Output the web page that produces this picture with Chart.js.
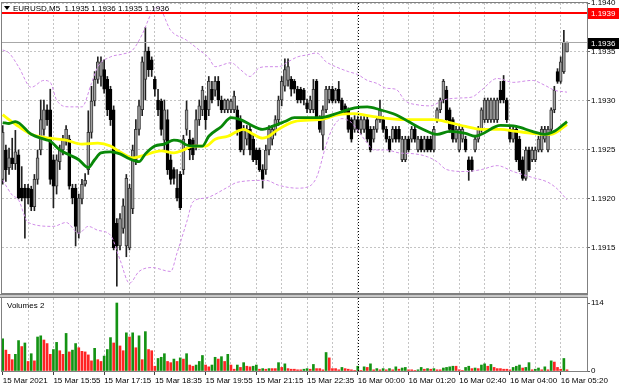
<!DOCTYPE html>
<html lang="en">
<head>
<meta charset="UTF-8">
<title>EURUSD,M5</title>
<style>
    body { margin: 0; background: #fff; }
    #wrap { position: relative; width: 620px; height: 388px; overflow: hidden; background: #fff; }
    canvas { position: absolute; left: 0; }
    #priceCanvas { top: 0; }
    #volCanvas { top: 294px; }
</style>
<script src="https://cdn.jsdelivr.net/npm/chart.js"></script>
</head>
<body>
<div id="wrap">
    <canvas id="priceCanvas" width="620" height="294"></canvas>
    <canvas id="volCanvas" width="620" height="94"></canvas>
</div>
<script>
// time axis labels, one every 16 bars (80 minutes)
const timeLabels = ['15 Mar 2021', '15 Mar 15:55', '15 Mar 17:15', '15 Mar 18:35', '15 Mar 19:55', '15 Mar 21:15',
    '15 Mar 22:35', '16 Mar 00:00', '16 Mar 01:20', '16 Mar 02:40', '16 Mar 04:00', '16 Mar 05:20'];

// M5 candles
const opens = [
    1.19220,1.19250,1.19232,1.19242,1.19236,1.19245,1.19211,1.19211,1.19211,1.19210,
    1.19192,1.19220,1.19250,1.19271,1.19291,1.19291,1.19240,1.19213,1.19238,1.19250,
    1.19261,1.19261,1.19211,1.19211,1.19165,1.19200,1.19215,1.19230,1.19268,1.19300,
    1.19322,1.19325,1.19332,1.19322,1.19312,1.19291,1.19175,1.19152,1.19170,1.19152,
    1.19150,1.19190,1.19240,1.19271,1.19291,1.19322,1.19351,1.19342,1.19322,1.19301,
    1.19300,1.19260,1.19281,1.19240,1.19230,1.19211,1.19225,1.19230,1.19271,1.19261,
    1.19260,1.19255,1.19281,1.19291,1.19301,1.19291,1.19312,1.19311,1.19320,1.19301,
    1.19291,1.19291,1.19291,1.19291,1.19291,1.19281,1.19250,1.19261,1.19271,1.19261,
    1.19250,1.19250,1.19230,1.19230,1.19250,1.19261,1.19270,1.19281,1.19301,1.19315,
    1.19321,1.19322,1.19320,1.19312,1.19312,1.19311,1.19298,1.19291,1.19291,1.19320,
    1.19281,1.19265,1.19291,1.19301,1.19312,1.19301,1.19312,1.19301,1.19295,1.19291,
    1.19281,1.19271,1.19281,1.19271,1.19271,1.19281,1.19271,1.19261,1.19271,1.19281,
    1.19281,1.19271,1.19261,1.19261,1.19271,1.19271,1.19240,1.19240,1.19261,1.19261,
    1.19271,1.19250,1.19261,1.19250,1.19261,1.19261,1.19250,1.19281,1.19291,1.19301,
    1.19311,1.19291,1.19281,1.19261,1.19250,1.19261,1.19261,1.19240,1.19240,1.19250,
    1.19261,1.19271,1.19281,1.19281,1.19281,1.19281,1.19281,1.19311,1.19320,1.19301,
    1.19271,1.19261,1.19271,1.19261,1.19240,1.19221,1.19250,1.19240,1.19240,1.19250,
    1.19250,1.19261,1.19250,1.19271,1.19291,1.19330,1.19320,1.19330,1.19350
];
const highs = [
    1.19275,1.19255,1.19252,1.19262,1.19270,1.19250,1.19233,1.19215,1.19215,1.19213,
    1.19225,1.19250,1.19301,1.19301,1.19296,1.19312,1.19245,1.19245,1.19255,1.19265,
    1.19275,1.19265,1.19215,1.19215,1.19205,1.19220,1.19226,1.19290,1.19315,1.19330,
    1.19345,1.19345,1.19342,1.19325,1.19315,1.19295,1.19180,1.19185,1.19200,1.19225,
    1.19215,1.19255,1.19281,1.19301,1.19345,1.19375,1.19355,1.19345,1.19325,1.19312,
    1.19302,1.19301,1.19291,1.19245,1.19232,1.19230,1.19228,1.19265,1.19300,1.19270,
    1.19262,1.19291,1.19301,1.19315,1.19305,1.19325,1.19320,1.19325,1.19325,1.19305,
    1.19302,1.19302,1.19302,1.19310,1.19295,1.19285,1.19275,1.19275,1.19275,1.19265,
    1.19252,1.19252,1.19235,1.19255,1.19275,1.19275,1.19285,1.19305,1.19325,1.19343,
    1.19343,1.19325,1.19322,1.19315,1.19314,1.19313,1.19302,1.19305,1.19322,1.19322,
    1.19285,1.19295,1.19315,1.19315,1.19315,1.19313,1.19320,1.19303,1.19297,1.19293,
    1.19283,1.19285,1.19284,1.19284,1.19284,1.19284,1.19274,1.19274,1.19284,1.19301,
    1.19284,1.19274,1.19264,1.19274,1.19274,1.19274,1.19264,1.19264,1.19264,1.19274,
    1.19274,1.19264,1.19264,1.19264,1.19264,1.19264,1.19274,1.19293,1.19303,1.19322,
    1.19315,1.19293,1.19283,1.19274,1.19274,1.19274,1.19264,1.19243,1.19243,1.19264,
    1.19274,1.19293,1.19303,1.19303,1.19303,1.19303,1.19303,1.19320,1.19326,1.19303,
    1.19274,1.19274,1.19274,1.19264,1.19243,1.19253,1.19253,1.19253,1.19253,1.19264,
    1.19274,1.19274,1.19274,1.19293,1.19315,1.19333,1.19345,1.19372,1.19360
];
const lows = [
    1.19215,1.19218,1.19225,1.19230,1.19230,1.19200,1.19198,1.19160,1.19195,1.19188,
    1.19188,1.19215,1.19245,1.19265,1.19275,1.19215,1.19191,1.19205,1.19230,1.19245,
    1.19255,1.19210,1.19195,1.19152,1.19160,1.19195,1.19213,1.19225,1.19262,1.19295,
    1.19318,1.19315,1.19308,1.19285,1.19275,1.19148,1.19111,1.19148,1.19165,1.19141,
    1.19148,1.19185,1.19235,1.19265,1.19285,1.19301,1.19325,1.19325,1.19305,1.19285,
    1.19265,1.19250,1.19225,1.19215,1.19215,1.19198,1.19189,1.19225,1.19265,1.19240,
    1.19240,1.19250,1.19275,1.19285,1.19271,1.19285,1.19298,1.19305,1.19295,1.19288,
    1.19288,1.19288,1.19288,1.19288,1.19265,1.19248,1.19245,1.19255,1.19245,1.19238,
    1.19235,1.19228,1.19211,1.19225,1.19245,1.19255,1.19265,1.19275,1.19295,1.19310,
    1.19315,1.19305,1.19308,1.19298,1.19298,1.19296,1.19288,1.19288,1.19288,1.19280,
    1.19268,1.19250,1.19288,1.19298,1.19298,1.19298,1.19298,1.19288,1.19286,1.19268,
    1.19258,1.19268,1.19268,1.19266,1.19268,1.19258,1.19248,1.19258,1.19268,1.19278,
    1.19268,1.19258,1.19248,1.19258,1.19258,1.19258,1.19238,1.19238,1.19248,1.19258,
    1.19258,1.19248,1.19248,1.19248,1.19248,1.19248,1.19248,1.19278,1.19288,1.19298,
    1.19278,1.19268,1.19258,1.19258,1.19248,1.19258,1.19248,1.19219,1.19228,1.19248,
    1.19258,1.19268,1.19278,1.19278,1.19278,1.19278,1.19278,1.19298,1.19298,1.19278,
    1.19258,1.19258,1.19238,1.19228,1.19219,1.19219,1.19228,1.19238,1.19238,1.19248,
    1.19248,1.19258,1.19248,1.19268,1.19288,1.19318,1.19318,1.19328,1.19350
];
const closes = [
    1.19268,1.19230,1.19242,1.19236,1.19248,1.19201,1.19201,1.19201,1.19201,1.19192,
    1.19220,1.19242,1.19281,1.19291,1.19281,1.19220,1.19213,1.19240,1.19250,1.19261,
    1.19271,1.19213,1.19201,1.19172,1.19201,1.19215,1.19219,1.19268,1.19300,1.19322,
    1.19340,1.19340,1.19312,1.19291,1.19281,1.19150,1.19152,1.19180,1.19193,1.19221,
    1.19211,1.19250,1.19271,1.19295,1.19340,1.19351,1.19332,1.19332,1.19312,1.19291,
    1.19271,1.19291,1.19230,1.19220,1.19221,1.19201,1.19191,1.19261,1.19291,1.19250,
    1.19245,1.19281,1.19295,1.19311,1.19281,1.19320,1.19301,1.19320,1.19301,1.19291,
    1.19301,1.19301,1.19300,1.19305,1.19271,1.19250,1.19271,1.19271,1.19250,1.19240,
    1.19240,1.19230,1.19220,1.19250,1.19271,1.19271,1.19281,1.19301,1.19320,1.19332,
    1.19335,1.19312,1.19312,1.19301,1.19301,1.19301,1.19292,1.19301,1.19312,1.19281,
    1.19271,1.19291,1.19312,1.19312,1.19300,1.19311,1.19300,1.19291,1.19288,1.19271,
    1.19261,1.19281,1.19271,1.19281,1.19281,1.19261,1.19250,1.19271,1.19281,1.19291,
    1.19271,1.19261,1.19250,1.19271,1.19261,1.19261,1.19261,1.19261,1.19250,1.19271,
    1.19261,1.19261,1.19250,1.19261,1.19250,1.19250,1.19271,1.19291,1.19301,1.19320,
    1.19281,1.19271,1.19261,1.19271,1.19271,1.19271,1.19250,1.19230,1.19230,1.19261,
    1.19271,1.19291,1.19301,1.19301,1.19301,1.19301,1.19301,1.19301,1.19301,1.19281,
    1.19261,1.19271,1.19240,1.19230,1.19221,1.19250,1.19230,1.19250,1.19250,1.19261,
    1.19271,1.19271,1.19271,1.19291,1.19311,1.19320,1.19340,1.19360,1.19360
];

// tick volumes ("Volumes 2" window)
const volumes = [
    54,35,28,19,28,51,41,47,16,29, 17,57,59,52,46,28,36,48,34,28,
    63,32,35,46,39,33,32,27,17,38, 19,16,25,36,56,47,114,42,34,64,
    57,64,39,59,19,66,36,34,8,21, 23,29,16,14,20,16,22,20,29,10,
    8,10,16,26,10,7,10,23,20,24, 16,28,10,3,10,6,14,8,7,8,
    10,3,4,3,4,4,4,14,6,12, 4,3,3,2,2,3,4,3,11,4,
    4,2,31,22,4,4,2,6,4,3, 2,1,8,1,7,6,12,2,4,2,
    4,2,4,2,7,3,5,6,2,2, 1,2,6,3,4,3,4,2,2,5,
    6,7,8,8,2,1,6,8,4,5, 4,10,12,8,11,6,4,4,3,3,
    2,6,8,10,5,6,14,2,3,5, 2,7,2,17,15,6,3,21,2
];

// indicator lines, sampled at the bar indexes given
const yellowBars = [0,2,5,9,15,20,25,30,34,37,41,44,50,54,57,60,64,67,71,74,76,79,82,84,86,92,100,106,111,117,127,136,141,146,151,157,162,167,170,173,178];
const yellowVals = [1.19286,1.19281,1.19274,1.19266,1.19262,1.19260,1.19256,1.19257,1.19254,1.19248,1.19242,1.19244,1.19249,1.19247,1.19250,1.19254,1.19254,1.19261,1.19264,1.19269,1.19271,1.19266,1.19262,1.19264,1.19269,1.19279,1.19281,1.19286,1.19287,1.19284,1.19281,1.19281,1.19278,1.19274,1.19271,1.19271,1.19269,1.19267,1.19266,1.19266,1.19276];
const greenBars = [0,2,4,9,13,15,18,21,24,27,29,31,34,37,40,43,45,48,51,54,56,58,60,63,65,69,72,75,78,82,85,89,92,95,100,106,111,115,119,124,128,132,137,141,146,149,151,157,162,167,171,174,178];
const greenVals = [1.19278,1.19277,1.19279,1.19266,1.19261,1.19259,1.19250,1.19245,1.19240,1.19232,1.19240,1.19247,1.19248,1.19246,1.19241,1.19238,1.19246,1.19254,1.19256,1.19260,1.19259,1.19255,1.19254,1.19254,1.19264,1.19274,1.19283,1.19281,1.19276,1.19271,1.19274,1.19279,1.19283,1.19283,1.19283,1.19288,1.19293,1.19294,1.19291,1.19286,1.19279,1.19272,1.19266,1.19269,1.19267,1.19264,1.19266,1.19275,1.19274,1.19269,1.19266,1.19269,1.19279];
const upperBars = [0,2,5,9,13,15,17,21,25,28,30,34,38,41,44,47,49,53,58,62,65,67,72,75,78,81,84,87,90,93,96,99,102,105,109,112,115,118,121,124,127,131,135,139,144,148,151,156,161,167,171,174,178];
const upperVals = [1.19352,1.19349,1.19335,1.19314,1.19321,1.19319,1.19301,1.19294,1.19294,1.19318,1.19335,1.19345,1.19348,1.19352,1.19368,1.19390,1.19396,1.19372,1.19362,1.19352,1.19344,1.19335,1.19339,1.19332,1.19325,1.19334,1.19335,1.19335,1.19340,1.19345,1.19347,1.19349,1.19340,1.19335,1.19330,1.19327,1.19321,1.19318,1.19313,1.19312,1.19300,1.19296,1.19295,1.19301,1.19303,1.19304,1.19311,1.19323,1.19319,1.19321,1.19316,1.19311,1.19309];
const lowerBars = [0,3,5,8,16,20,24,27,30,34,37,40,43,47,53,55,58,60,64,71,74,83,87,93,96,99,102,104,107,110,112,115,117,121,125,130,134,137,140,146,151,156,161,167,172,175,178];
const lowerVals = [1.19219,1.19204,1.19199,1.19176,1.19172,1.19176,1.19165,1.19172,1.19168,1.19163,1.19138,1.19114,1.19126,1.19130,1.19126,1.19145,1.19176,1.19197,1.19201,1.19212,1.19217,1.19219,1.19214,1.19211,1.19212,1.19222,1.19255,1.19272,1.19282,1.19278,1.19270,1.19257,1.19250,1.19250,1.19247,1.19246,1.19243,1.19238,1.19230,1.19228,1.19230,1.19234,1.19228,1.19222,1.19217,1.19210,1.19199];

const priceTicks = [1.1915, 1.1920, 1.1925, 1.1930, 1.1935, 1.1940];
const volumeTicks = [0, 114];
const alertLevel = 1.1939;   // red horizontal line
const bidPrice = 1.1936;     // current price line
const dayStartBar = 112;     // first bar of 16 Mar

const FONT = '"Liberation Sans", Arial, sans-serif';
Chart.defaults.font.family = FONT;
Chart.defaults.font.size = 8;
Chart.defaults.color = '#000';

const xMin = -0.22, xMax = 184.3;
const gridBars = Array.from({ length: 23 }, (_, k) => k * 8);
const idx = opens.map((_, i) => i);
const bull = idx.map(i => closes[i] >= opens[i]);

function pts(xs, ys) { return xs.map((x, k) => ({ x: x, y: ys[k] })); }

function lineSet(xs, ys, color, width, dash, order) {
    return {
        type: 'line', data: pts(xs, ys), borderColor: color, borderWidth: width,
        borderDash: dash, pointRadius: 0, cubicInterpolationMode: 'monotone', fill: false, order: order
    };
}

function axisBox(ctx, x, y, bg, text) {
    ctx.fillStyle = bg;
    ctx.fillRect(x, Math.round(y) - 5, 31, 11);
    ctx.fillStyle = '#fff';
    ctx.font = '8px ' + FONT;
    ctx.textAlign = 'left';
    ctx.textBaseline = 'middle';
    ctx.fillText(text, x + 3, Math.round(y) + 0.5);
}

const priceOverlay = {
    id: 'priceOverlay',
    afterDraw(chart) {
        const { ctx, chartArea: a, scales: { x, y } } = chart;
        ctx.save();
        // day separator
        const sx = Math.round(x.getPixelForValue(dayStartBar)) + 0.5;
        ctx.strokeStyle = '#000';
        ctx.lineWidth = 1;
        ctx.setLineDash([1, 2]);
        ctx.beginPath(); ctx.moveTo(sx, a.top); ctx.lineTo(sx, a.bottom); ctx.stroke();
        ctx.setLineDash([]);
        // bid line
        const by = Math.round(y.getPixelForValue(bidPrice)) + 0.5;
        ctx.strokeStyle = '#a8a8a8';
        ctx.beginPath(); ctx.moveTo(a.left, by); ctx.lineTo(a.right, by); ctx.stroke();
        // alert line
        const ry = Math.round(y.getPixelForValue(alertLevel));
        ctx.strokeStyle = '#ff0000';
        ctx.lineWidth = 2;
        ctx.beginPath(); ctx.moveTo(a.left, ry); ctx.lineTo(a.right, ry); ctx.stroke();
        // frame
        ctx.lineWidth = 1;
        ctx.strokeStyle = '#808080';
        ctx.strokeRect(a.left - 0.5, a.top - 0.5, a.right - a.left + 1, a.bottom - a.top + 1);
        // price boxes on the axis
        axisBox(ctx, a.right + 1, ry, '#ff0000', alertLevel.toFixed(4));
        axisBox(ctx, a.right + 1, by, '#000000', bidPrice.toFixed(4));
        // symbol line
        const n = closes.length - 1;
        ctx.fillStyle = '#000';
        ctx.beginPath(); ctx.moveTo(4, 6); ctx.lineTo(10, 6); ctx.lineTo(7, 10); ctx.closePath(); ctx.fill();
        ctx.font = '8px ' + FONT;
        ctx.textAlign = 'left';
        ctx.textBaseline = 'middle';
        ctx.fillText('EURUSD,M5  ' + [opens[n], highs[n], lows[n], closes[n]].map(v => v.toFixed(4)).join(' '), 13, 8.5);
        ctx.restore();
    }
};

new Chart(document.getElementById('priceCanvas'), {
    type: 'bar',
    data: {
        datasets: [
            lineSet(greenBars, greenVals, '#088808', 2.8, [], 0),
            lineSet(yellowBars, yellowVals, '#ffff00', 2.8, [], 1),
            lineSet(upperBars, upperVals, '#d08ce8', 1, [3, 2], 2),
            lineSet(lowerBars, lowerVals, '#d08ce8', 1, [3, 2], 2),
            {
                data: idx.map(i => ({ x: i, y: [opens[i], closes[i]] })),
                backgroundColor: bull.map(b => b ? '#a0a0a0' : '#000000'),
                borderColor: bull.map(b => b ? '#383838' : '#000000'),
                borderWidth: 1, borderSkipped: false, barThickness: 3, grouped: false, order: 5
            },
            {
                data: idx.map(i => ({ x: i, y: [lows[i], highs[i]] })),
                backgroundColor: '#202020', barThickness: 1, grouped: false, order: 6
            }
        ]
    },
    options: {
        responsive: false, animation: false, devicePixelRatio: 1,
        layout: { padding: { left: 2, top: 3, right: 0, bottom: 1 } },
        plugins: { legend: { display: false }, tooltip: { enabled: false } },
        scales: {
            x: {
                type: 'linear', min: xMin, max: xMax, offset: false,
                afterBuildTicks: s => { s.ticks = gridBars.slice(1).map(v => ({ value: v })); },
                ticks: { display: false },
                grid: { color: '#c4c4c4', drawTicks: false, offset: false },
                border: { display: false, dash: [2, 2] },
                afterFit: s => { s.height = 0; s.paddingLeft = 0; s.paddingRight = 0; }
            },
            y: {
                position: 'right', min: 1.19104, max: 1.19400,
                afterBuildTicks: s => { s.ticks = priceTicks.map(v => ({ value: v })); },
                ticks: { callback: v => v.toFixed(4), padding: 1, color: '#000' },
                grid: { color: '#c4c4c4', tickLength: 3, tickColor: '#606060' },
                border: { display: false, dash: [2, 2] },
                afterFit: s => { s.width = 33; s.paddingTop = 0; s.paddingBottom = 0; }
            }
        }
    },
    plugins: [priceOverlay]
});

const volOverlay = {
    id: 'volOverlay',
    afterDraw(chart) {
        const { ctx, chartArea: a, scales: { x } } = chart;
        ctx.save();
        // panel separator
        ctx.fillStyle = '#c8c8c8';
        ctx.fillRect(0, 0, a.right + 1, 4);
        ctx.fillStyle = '#808080';
        ctx.fillRect(0, 0, a.right + 1, 1);
        ctx.fillRect(0, 3, a.right + 1, 1);
        // day separator
        const sx = Math.round(x.getPixelForValue(dayStartBar)) + 0.5;
        ctx.strokeStyle = '#000';
        ctx.lineWidth = 1;
        ctx.setLineDash([1, 2]);
        ctx.beginPath(); ctx.moveTo(sx, a.top); ctx.lineTo(sx, a.bottom); ctx.stroke();
        ctx.setLineDash([]);
        // frame
        ctx.strokeStyle = '#808080';
        ctx.strokeRect(a.left - 0.5, a.top - 0.5, a.right - a.left + 1, a.bottom - a.top + 1);
        ctx.fillStyle = '#000';
        ctx.font = '8px ' + FONT;
        ctx.textAlign = 'left';
        ctx.textBaseline = 'middle';
        ctx.fillText('Volumes 2', 7, a.top + 8);
        ctx.restore();
    }
};

new Chart(document.getElementById('volCanvas'), {
    type: 'bar',
    data: {
        datasets: [{
            data: volumes.map((v, i) => ({ x: i, y: v })),
            // green when volume grows against the previous bar, red otherwise
            backgroundColor: volumes.map((v, i) => (i === 0 || v > volumes[i - 1]) ? '#139313' : '#ff2424'),
            barThickness: 2
        }]
    },
    options: {
        responsive: false, animation: false, devicePixelRatio: 1,
        layout: { padding: { left: 2, top: 4, right: 0, bottom: 0 } },
        plugins: { legend: { display: false }, tooltip: { enabled: false } },
        scales: {
            x: {
                type: 'linear', min: xMin, max: xMax, offset: false,
                afterBuildTicks: s => { s.ticks = gridBars.map(v => ({ value: v })); },
                ticks: {
                    autoSkip: false, maxRotation: 0, align: 'start', padding: 1, color: '#000',
                    callback: v => (v % 16 === 0 ? timeLabels[v / 16] : '')
                },
                grid: {
                    offset: false, tickLength: 4,
                    color: c => (c.tick && c.tick.value === 0) ? 'rgba(0,0,0,0)' : '#c4c4c4',
                    tickColor: c => (c.tick && c.tick.value % 16 === 0) ? '#404040' : 'rgba(0,0,0,0)'
                },
                border: { display: false, dash: [2, 2] },
                afterFit: s => { s.height = 17; s.paddingLeft = 0; s.paddingRight = 0; }
            },
            y: {
                position: 'right', min: 0, max: 122.4,
                afterBuildTicks: s => { s.ticks = volumeTicks.map(v => ({ value: v })); },
                ticks: { padding: 1, color: '#000' },
                grid: { drawOnChartArea: false, tickLength: 3, tickColor: '#606060' },
                border: { display: false },
                afterFit: s => { s.width = 33; s.paddingTop = 0; s.paddingBottom = 0; }
            }
        }
    },
    plugins: [volOverlay]
});
</script>
</body>
</html>
